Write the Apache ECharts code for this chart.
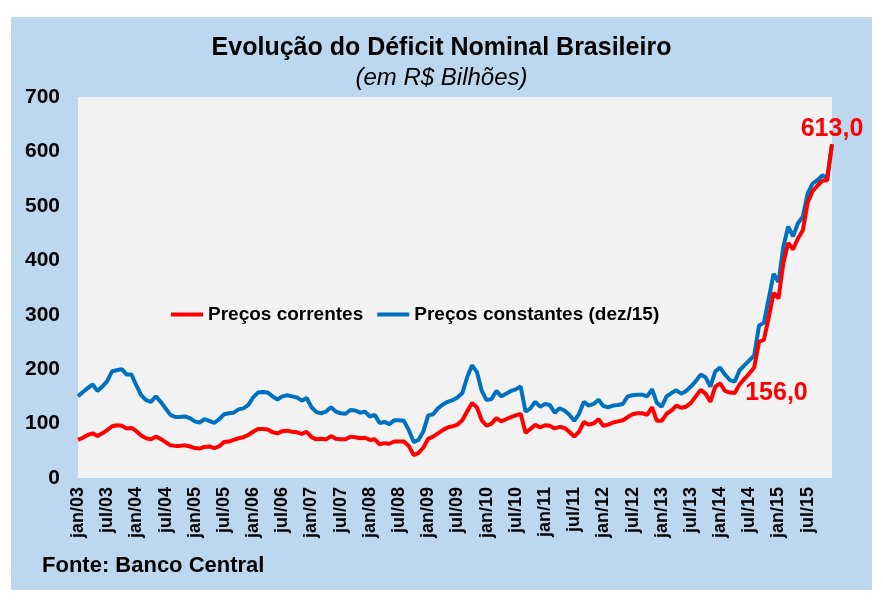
<!DOCTYPE html>
<html><head><meta charset="utf-8">
<script src="https://cdn.jsdelivr.net/npm/echarts@6/dist/echarts.min.js"></script>
<style>html,body{margin:0;padding:0;background:#fff}#c{width:883px;height:601px}</style>
</head><body><div id="c"></div>
<script>
var monthNames = ['jan','fev','mar','abr','mai','jun','jul','ago','set','out','nov','dez'];
var years = ['03','04','05','06','07','08','09','10','11','12','13','14','15'];
var categories = [];
years.forEach(function(y){ monthNames.forEach(function(m){ categories.push(m + '/' + y); }); });

var yTicks = [0, 100, 200, 300, 400, 500, 600, 700];

// Preços correntes (R$ bilhões)
var correntes = [
  70, 74, 79, 82, 77, 82, 88, 95, 97, 96, 91, 92,
  86, 78, 73, 71, 76, 72, 66, 60, 59, 59, 60, 58,
  55, 54, 57, 58, 55, 58, 66, 67, 70, 73, 75, 79,
  85, 90, 90, 89, 84, 82, 86, 87, 85, 84, 81, 85,
  75, 71, 72, 71, 77, 72, 71, 71, 76, 75, 73, 74,
  70, 71, 62, 64, 63, 67, 67, 67, 59, 42, 46, 56,
  72, 76, 82, 88, 93, 95, 98, 106, 122, 138, 130, 106,
  96, 100, 110, 104, 108, 112, 115, 118, 83, 90, 98, 93,
  97, 96, 91, 94, 92, 85, 76, 85, 103, 98, 100, 108,
  96, 98, 102, 104, 106, 112, 117, 119, 119, 116, 130, 105,
  105, 118, 124, 133, 129, 131, 138, 150, 162, 155, 140, 168,
  174, 160, 157, 156, 172, 182, 192, 203, 250, 254, 295, 340,
  330, 395, 432, 420, 440, 455, 506, 527, 537, 546, 547, 613
];

// Preços constantes (dez/15)
var constantes = [
  150, 158, 165, 172, 160, 168, 178, 196, 198, 200, 190, 190,
  170, 152, 143, 140, 150, 140, 128, 116, 112, 112, 113, 110,
  104, 102, 108, 105, 101, 108, 117, 119, 120, 126, 128, 134,
  148, 157, 158, 157, 150, 144, 150, 152, 150, 148, 142, 147,
  130, 121, 119, 122, 130, 122, 119, 118, 125, 124, 120, 122,
  113, 116, 101, 103, 99, 106, 106, 105, 88, 66, 70, 86,
  115, 117, 128, 135, 140, 143, 148, 156, 185, 207, 195, 160,
  143, 145, 160, 150, 155, 160, 163, 168, 122, 128, 140, 131,
  136, 134, 120, 128, 124, 116, 105, 118, 140, 133, 136, 144,
  132, 130, 133, 134, 136, 150, 152, 153, 153, 150, 163, 138,
  131, 150, 156, 161, 155, 160, 168, 178, 190, 185, 168, 196,
  203, 190, 180, 177, 198, 207, 216, 225, 280, 285, 330, 375,
  360, 425, 462, 444, 468, 480, 523, 541, 547, 556, 552, 613
];

var labelFont = 'Liberation Sans, Arial, sans-serif';
var lastIdx = correntes.length - 1;
var redData = correntes.map(function(v, i){
  if (i === 135) return {value: v, symbol: 'circle', symbolSize: 1,
    label: {show: true, position: 'right', distance: 10, formatter: '156,0', color: '#FF0000', fontSize: 25, fontWeight: 'bold', fontFamily: labelFont}};
  if (i === lastIdx) return {value: v, symbol: 'circle', symbolSize: 1,
    label: {show: true, position: 'top', distance: 2, formatter: '613,0', color: '#FF0000', fontSize: 25, fontWeight: 'bold', fontFamily: labelFont}};
  return {value: v, symbol: 'none'};
});

var chart = echarts.init(document.getElementById('c'), null, {renderer: 'canvas'});
chart.setOption({
  animation: false,
  backgroundColor: '#ffffff',
  graphic: [
    {type: 'rect', z: -10, shape: {x: 11, y: 17, width: 861, height: 573}, style: {fill: '#BDD7EE'}},
    {type: 'text', left: 42, top: 555, style: {text: 'Fonte: Banco Central', fill: '#000', font: 'bold 22px Liberation Sans, Arial, sans-serif'}}
  ],
  title: {
    text: 'Evolução do Déficit Nominal Brasileiro',
    subtext: '(em R$ Bilhões)',
    left: 'center', top: 31, itemGap: 5,
    textStyle: {fontFamily: labelFont, fontSize: 25, fontWeight: 'bold', color: '#000'},
    subtextStyle: {fontFamily: labelFont, fontSize: 24, fontStyle: 'italic', color: '#000'}
  },
  legend: {
    left: 166, top: 300, itemGap: 14, itemWidth: 32, itemHeight: 4,
    icon: 'rect',
    textStyle: {fontFamily: labelFont, fontSize: 19, fontWeight: 'bold', color: '#000'},
    data: ['Preços correntes', 'Preços constantes (dez/15)']
  },
  grid: {left: 78, right: 51, top: 97, bottom: 123, show: true, backgroundColor: '#F2F2F2', borderWidth: 0, containLabel: false},
  xAxis: {
    type: 'category', data: categories, boundaryGap: false,
    axisLine: {show: false}, axisTick: {show: false}, splitLine: {show: false},
    axisLabel: {interval: 5, rotate: 90, margin: 9, fontFamily: labelFont, fontSize: 18, fontWeight: 'bold', color: '#000'}
  },
  yAxis: {
    type: 'value', min: yTicks[0], max: yTicks[yTicks.length - 1], interval: 100,
    axisLine: {show: false}, axisTick: {show: false}, splitLine: {show: false},
    axisLabel: {margin: 18, fontFamily: labelFont, fontSize: 21, fontWeight: 'bold', color: '#000'}
  },
  series: [
    {name: 'Preços correntes', type: 'line', data: redData, showSymbol: true, showAllSymbol: true, symbol: 'none',
      lineStyle: {color: '#FF0000', width: 4}, itemStyle: {color: '#FF0000'}, z: 3},
    {name: 'Preços constantes (dez/15)', type: 'line', data: constantes, showSymbol: false, symbol: 'none',
      lineStyle: {color: '#0070C0', width: 4}, itemStyle: {color: '#0070C0'}, z: 2}
  ]
});
</script></body></html>
